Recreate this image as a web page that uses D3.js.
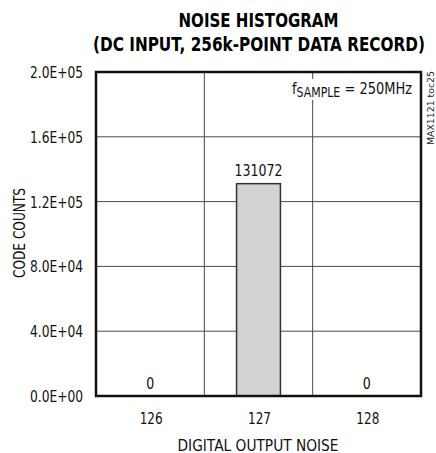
<!DOCTYPE html>
<html><head><meta charset="utf-8">
<script src="https://cdn.jsdelivr.net/npm/d3@7"></script>
<style>
body{margin:0;background:#fff;}
text{font-family:"DejaVu Sans",sans-serif;}
</style></head>
<body><svg id="c" width="436" height="453"></svg>
<script>
const categories = ["126","127","128"];
const counts = [0, 131072, 0];
const yTicks = [0, 40000, 80000, 120000, 160000, 200000];
const yTickLabels = ["0.0E+00","4.0E+04","8.0E+04","1.2E+05","1.6E+05","2.0E+05"];

const svg = d3.select("#c");
const m = {l:96, r:421, t:72, b:396};
const x = d3.scaleBand().domain(categories).range([m.l, m.r]);
const y = d3.scaleLinear().domain([0, 200000]).range([m.b, m.t]);
const fit = "spacingAndGlyphs";

// gridlines
svg.append("g").selectAll("line").data(yTicks.slice(1,-1)).join("line")
  .attr("x1", m.l).attr("x2", m.r).attr("y1", d=>y(d)).attr("y2", d=>y(d))
  .attr("stroke", "#4a4a4a").attr("stroke-width", 1);
svg.append("g").selectAll("line").data(categories.slice(1)).join("line")
  .attr("x1", d=>x(d)).attr("x2", d=>x(d)).attr("y1", m.t).attr("y2", m.b)
  .attr("stroke", "#4a4a4a").attr("stroke-width", 1);

// bars
const bw = x.bandwidth()*0.405;
svg.append("g").selectAll("rect").data(counts).join("rect")
  .attr("x", (d,i)=>x(categories[i]) + x.bandwidth()/2 - bw/2)
  .attr("width", bw)
  .attr("y", d=>y(d)).attr("height", d=>y(0)-y(d))
  .attr("fill", "#d3d3d3").attr("stroke", d=>d>0?"#333":"none").attr("stroke-width", 1.5);

// value labels
svg.append("g").selectAll("text").data(counts).join("text")
  .attr("x", (d,i)=>x(categories[i]) + x.bandwidth()/2)
  .attr("y", d=> d>0 ? y(d)-8 : y(0)-7)
  .attr("text-anchor","middle").attr("font-size",15.5).attr("fill","#111")
  .attr("textLength", d=>String(d).length*8).attr("lengthAdjust", fit)
  .text(d=>d);

// annotation (white box masks gridline)
svg.append("rect").attr("x",289).attr("y",79).attr("width",126).attr("height",21).attr("fill","#fff");
const ann = svg.append("text").attr("x",292).attr("y",94).attr("text-anchor","start")
  .attr("font-size",16).attr("fill","#111")
  .attr("textLength", 120).attr("lengthAdjust", fit);
ann.append("tspan").text("f");
ann.append("tspan").attr("font-size",13.5).attr("dy",3).text("SAMPLE");
ann.append("tspan").attr("dy",-3).text(" = 250MHz");

// frame
svg.append("rect").attr("x", m.l).attr("y", m.t).attr("width", m.r-m.l).attr("height", m.b-m.t)
  .attr("fill","none").attr("stroke","#111").attr("stroke-width",2.5);

// y axis labels
svg.append("g").selectAll("text").data(yTicks).join("text")
  .attr("x", 83).attr("y", d=>y(d)+6)
  .attr("text-anchor","end").attr("font-size",16).attr("fill","#111")
  .attr("textLength", 53).attr("lengthAdjust", fit)
  .text((d,i)=>yTickLabels[i]);

// x axis labels
svg.append("g").selectAll("text").data(categories).join("text")
  .attr("x", d=>x(d)+x.bandwidth()/2 + 1).attr("y", 424)
  .attr("text-anchor","middle").attr("font-size",15.5).attr("fill","#111")
  .attr("textLength", 23).attr("lengthAdjust", fit)
  .text(d=>d);

svg.append("text").attr("x", 258).attr("y", 451).attr("text-anchor","middle")
  .attr("font-size",16).attr("fill","#111")
  .attr("textLength", 161).attr("lengthAdjust", fit)
  .text("DIGITAL OUTPUT NOISE");
svg.append("text").attr("transform","translate(25,233) rotate(-90)").attr("text-anchor","middle")
  .attr("font-size",16).attr("fill","#111")
  .attr("textLength", 90).attr("lengthAdjust", fit)
  .text("CODE COUNTS");

// title
svg.append("text").attr("x",258.5).attr("y",27).attr("text-anchor","middle")
  .attr("font-size",19).attr("font-weight","bold").attr("fill","#000")
  .attr("textLength", 160).attr("lengthAdjust", fit)
  .text("NOISE HISTOGRAM");
svg.append("text").attr("x",259).attr("y",51).attr("text-anchor","middle")
  .attr("font-size",19).attr("font-weight","bold").attr("fill","#000")
  .attr("textLength", 332).attr("lengthAdjust", fit)
  .text("(DC INPUT, 256k-POINT DATA RECORD)");

svg.append("text").attr("transform","translate(434,145) rotate(-90)").attr("text-anchor","start")
  .attr("font-size",9.5).attr("fill","#222")
  .attr("textLength", 74).attr("lengthAdjust", fit)
  .text("MAX1121 toc25");
</script></body></html>
